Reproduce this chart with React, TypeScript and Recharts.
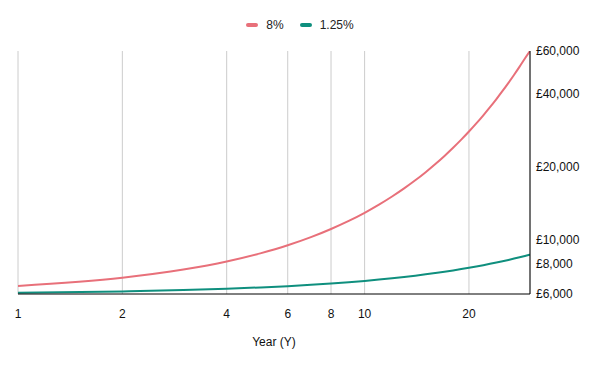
import React from "react";
import { LineChart, Line, XAxis, YAxis, CartesianGrid, Legend } from "recharts";

// years on the x axis (log scale)
const years = [
  1, 2, 3, 4, 5, 6, 7, 8, 9, 10, 11, 12, 13, 14, 15, 16, 17, 18, 19, 20, 21, 22, 23, 24, 25, 26, 27,
  28, 29, 30,
];

// balance at 8%
const rate8 = [
  6480, 7000, 7560, 8160, 8820, 9520, 10280, 11110, 11990, 12950, 13990, 15110, 16320, 17620, 19030,
  20560, 22200, 23980, 25900, 27970, 30200, 32620, 35230, 38050, 41090, 44380, 47930, 51760, 55900,
  60000,
];

// balance at 1.25%
const rate125 = [
  6075, 6151, 6228, 6306, 6385, 6464, 6545, 6627, 6710, 6794, 6879, 6965, 7052, 7140, 7229, 7320,
  7411, 7504, 7598, 7693, 7789, 7886, 7985, 8085, 8186, 8288, 8392, 8497, 8603, 8710,
];

const xTicks = [1, 2, 4, 6, 8, 10, 20];
const yTicks = [6000, 8000, 10000, 20000, 40000, 60000];

const SERIES = [
  { key: "r8", name: "8%", color: "#e8707a" },
  { key: "r125", name: "1.25%", color: "#0f8f7e" },
];

const FONT = '"Liberation Sans", Arial, sans-serif';
const TEXT = "#111";

const data = years.map((y, i) => ({ year: y, r8: rate8[i], r125: rate125[i] }));

const formatPounds = (v: number) => "£" + v.toLocaleString("en-GB");

function LegendContent() {
  return (
    <div
      style={{
        display: "flex",
        justifyContent: "center",
        alignItems: "center",
        height: 14,
        fontFamily: FONT,
        fontSize: 12,
        color: "#222",
      }}
    >
      {SERIES.map((s, i) => (
        <div
          key={s.key}
          style={{ display: "flex", alignItems: "center", marginLeft: i === 0 ? 0 : 16 }}
        >
          <span
            style={{
              display: "inline-block",
              width: 12,
              height: 4,
              borderRadius: 2,
              background: s.color,
              marginRight: 8,
            }}
          />
          <span>{s.name}</span>
        </div>
      ))}
    </div>
  );
}

export default function App() {
  return (
    <div style={{ position: "absolute", left: 0, top: 0, background: "#fff" }}>
      <LineChart
        width={600}
        height={371}
        data={data}
        margin={{ top: 51, right: 0, bottom: 17, left: 18 }}
        style={{ fontFamily: FONT }}
      >
        <CartesianGrid horizontal={false} stroke="#cccccc" />
        <XAxis
          dataKey="year"
          type="number"
          scale="log"
          domain={[1, 30]}
          ticks={xTicks}
          interval={0}
          allowDataOverflow
          height={60}
          tickLine={false}
          tickSize={0}
          tickMargin={15}
          axisLine={{ stroke: "#000" }}
          tick={{ fill: TEXT, fontSize: 12 }}
          label={{
            value: "Year (Y)",
            position: "insideBottom",
            offset: 8,
            fill: TEXT,
            fontSize: 12,
          }}
        />
        <YAxis
          orientation="right"
          type="number"
          scale="log"
          domain={[6000, 60000]}
          ticks={yTicks}
          interval={0}
          allowDataOverflow
          width={70}
          tickLine={false}
          tickSize={0}
          tickMargin={6}
          axisLine={{ stroke: "#000" }}
          tick={{ fill: TEXT, fontSize: 12 }}
          tickFormatter={formatPounds}
        />
        <Legend
          verticalAlign="middle"
          align="center"
          wrapperStyle={{ left: 0, top: 18, width: 600 }}
          content={() => <LegendContent />}
        />
        {SERIES.map((s) => (
          <Line
            key={s.key}
            dataKey={s.key}
            name={s.name}
            type="monotone"
            stroke={s.color}
            strokeWidth={2}
            dot={false}
            isAnimationActive={false}
          />
        ))}
      </LineChart>
    </div>
  );
}
